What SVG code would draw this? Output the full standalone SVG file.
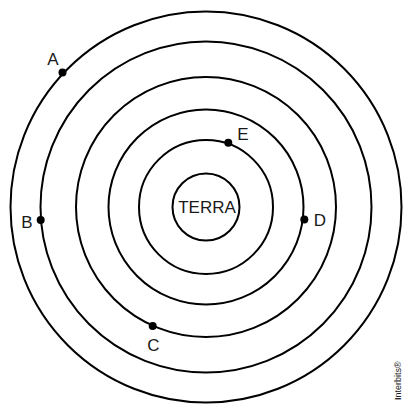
<svg xmlns="http://www.w3.org/2000/svg" width="403" height="407" viewBox="0 0 403 407">
<style>
.orb{fill:none;stroke:#000;stroke-width:2}
.dot{fill:#000}
.lbl{font-family:"Liberation Sans",Arial,sans-serif;font-size:17px;fill:#1a1a1a}
</style>
<rect width="403" height="407" fill="#fff"/>
<g id="orbits">
<circle id="terra-circle" class="orb" cx="206" cy="207" r="33.5"/>
<circle id="orbit1" class="orb" cx="206" cy="207" r="67"/>
<circle id="orbit2" class="orb" cx="206" cy="207" r="97.5"/>
<circle id="orbit3" class="orb" cx="206" cy="207" r="130"/>
<circle id="orbit4" class="orb" cx="206" cy="207" r="165.5"/>
<circle id="orbit5" class="orb" cx="206" cy="207" r="195.5"/>
</g>
<g id="terra"><text class="lbl" x="207" y="213" text-anchor="middle">TERRA</text></g>
<g id="A"><circle class="dot" cx="62.5" cy="72.5" r="4"/><text class="lbl" x="53" y="64.5" text-anchor="middle">A</text></g>
<g id="B"><circle class="dot" cx="40.7" cy="220" r="4"/><text class="lbl" x="27" y="228" text-anchor="middle">B</text></g>
<g id="C"><circle class="dot" cx="152.7" cy="326" r="4"/><text class="lbl" x="153.5" y="351" text-anchor="middle">C</text></g>
<g id="D"><circle class="dot" cx="304.3" cy="219.5" r="4"/><text class="lbl" x="320" y="226" text-anchor="middle">D</text></g>
<g id="E"><circle class="dot" cx="228.3" cy="142.7" r="4"/><text class="lbl" x="243" y="139.5" text-anchor="middle">E</text></g>
<text x="401" y="400" transform="rotate(-90 401 400)" font-family="Liberation Sans,Arial,sans-serif" font-size="9" fill="#222"><tspan font-weight="bold">I</tspan>nterbits®</text>
</svg>
